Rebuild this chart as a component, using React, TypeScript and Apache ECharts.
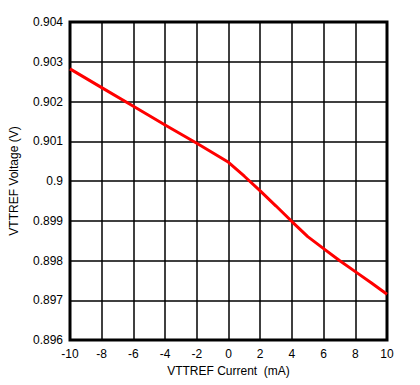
import React, { useEffect, useRef } from "react";
import * as echarts from "echarts";

const currents = [-10, -8, -6, -4, -2, 0, 1, 2, 3, 4, 5, 6, 7, 8, 9, 10];
const voltages = [0.90282, 0.90235, 0.90188, 0.90141, 0.90095, 0.90047, 0.90012, 0.89975, 0.89937, 0.89898, 0.8986, 0.8983, 0.898, 0.89772, 0.89744, 0.89715];
const xAxisName = "VTTREF Current  (mA)";
const yAxisName = "VTTREF Voltage (V)";

export default function App() {
  const ref = useRef<HTMLDivElement>(null);
  useEffect(() => {
    const chart = echarts.init(ref.current!, undefined, { renderer: "svg" });
    const font = "Arial, 'Liberation Sans', sans-serif";
    chart.setOption({
      animation: false,
      backgroundColor: "#fff",
      grid: { left: 69, right: 33, top: 22, bottom: 45, show: true, borderColor: "#000", borderWidth: 3 },
      xAxis: {
        type: "value",
        min: -10,
        max: 10,
        interval: 2,
        name: xAxisName,
        nameLocation: "middle",
        nameGap: 21,
        nameTextStyle: { color: "#000", fontSize: 12, fontFamily: font },
        axisLine: { show: false },
        axisTick: { show: false },
        axisLabel: { color: "#000", fontSize: 12, fontFamily: font, margin: 8 },
        splitLine: { show: true, lineStyle: { color: "#000", width: 1.5 } },
      },
      yAxis: {
        type: "value",
        min: 0.896,
        max: 0.904,
        interval: 0.001,
        name: yAxisName,
        nameLocation: "middle",
        nameGap: 50,
        nameTextStyle: { color: "#000", fontSize: 12, fontFamily: font },
        axisLine: { show: false },
        axisTick: { show: false },
        axisLabel: {
          color: "#000",
          fontSize: 12,
          fontFamily: font,
          margin: 7,
          formatter: (v: number) => {
            const s = v.toFixed(3);
            return s === "0.900" ? "0.9" : s;
          },
        },
        splitLine: { show: true, lineStyle: { color: "#000", width: 1.5 } },
      },
      series: [
        {
          type: "line",
          data: currents.map((c, i) => [c, voltages[i]]),
          showSymbol: false,
          lineStyle: { color: "#ff0000", width: 3 },
        },
      ],
    });
    return () => chart.dispose();
  }, []);
  return <div ref={ref} style={{ width: 420, height: 385, position: "absolute", left: 0, top: 0 }} />;
}
